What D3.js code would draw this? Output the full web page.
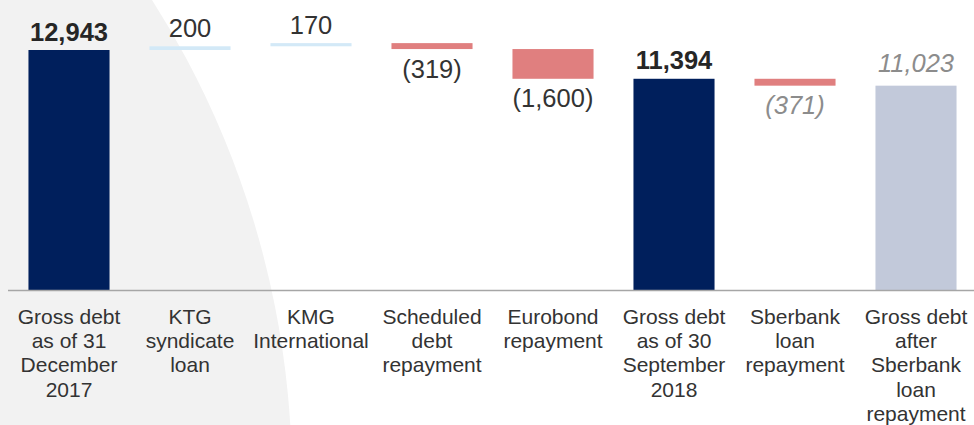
<!DOCTYPE html>
<html>
<head>
<meta charset="utf-8">
<script src="https://cdn.jsdelivr.net/npm/d3@7"></script>
<style>
  html, body { margin: 0; padding: 0; background: #ffffff; }
  svg { display: block; font-family: "Liberation Sans", Arial, sans-serif; }
</style>
</head>
<body>
<div id="chart"></div>
<script>
// ---- data ----
const categories = [
  ["Gross debt", "as of 31", "December", "2017"],
  ["KTG", "syndicate", "loan"],
  ["KMG", "International"],
  ["Scheduled", "debt", "repayment"],
  ["Eurobond", "repayment"],
  ["Gross debt", "as of 30", "September", "2018"],
  ["Sberbank", "loan", "repayment"],
  ["Gross debt", "after", "Sberbank", "loan", "repayment"]
];
const values = [12943, 200, 170, -319, -1600, 11394, -371, 11023];
const kinds = ["total", "increase", "increase", "decrease", "decrease", "total", "decrease-proj", "total-proj"];
const valueLabels = ["12,943", "200", "170", "(319)", "(1,600)", "11,394", "(371)", "11,023"];

// ---- styles ----
const W = 974, H = 425;
const baseY = 290.5;
const colors = {
  "total": "#001f5c",
  "increase": "#d3e9f7",
  "decrease": "#e07f7f",
  "decrease-proj": "#e07f7f",
  "total-proj": "#c2c9da"
};

// build waterfall segments
let running = 0;
const rows = values.map((v, i) => {
  const k = kinds[i];
  let start, end;
  if (k.startsWith("total")) { start = 0; end = v; running = v; }
  else { start = running; end = running + v; running = end; }
  return { i, k, v, start, end, lo: Math.min(start, end), hi: Math.max(start, end), label: valueLabels[i], cat: categories[i] };
});

const svg = d3.select("#chart").append("svg").attr("width", W).attr("height", H);

// background arc
svg.append("circle").attr("cx", -601).attr("cy", 480).attr("r", 893).attr("fill", "#f2f2f2");

const x = d3.scaleBand().domain(d3.range(values.length)).range([8.5, 976.5]).paddingInner(0.33).paddingOuter(0.165);
const pxPerUnit = (baseY - 50) / 12943;
const y = d3.scaleLinear().domain([0, 13500]).range([baseY, baseY - 13500 * pxPerUnit]);

// bars
svg.append("g").selectAll("rect").data(rows).join("rect")
  .attr("x", d => x(d.i))
  .attr("width", x.bandwidth())
  .attr("y", d => y(d.hi))
  .attr("height", d => Math.max(1, y(d.lo) - y(d.hi)))
  .attr("fill", d => colors[d.k]);

// axis line
svg.append("line").attr("x1", 8).attr("x2", W).attr("y1", baseY).attr("y2", baseY)
  .attr("stroke", "#a6a6a6").attr("stroke-width", 1.7);

// value labels
svg.append("g").selectAll("text").data(rows).join("text")
  .attr("x", d => x(d.i) + x.bandwidth() / 2)
  .attr("y", d => d.v < 0 && !d.k.startsWith("total") ? y(d.lo) + 28.5 : y(d.hi) - (d.k === "total-proj" ? 14 : 9.5))
  .attr("text-anchor", "middle")
  .attr("font-size", 25.5)
  .attr("font-weight", d => d.k === "total" ? "bold" : "normal")
  .attr("font-style", d => d.k.endsWith("proj") ? "italic" : "normal")
  .attr("fill", d => d.k.endsWith("proj") ? "#8c8c8c" : (d.k === "total" ? "#262626" : "#333333"))
  .text(d => d.label);

// category labels
const cg = svg.append("g").selectAll("text").data(rows).join("text")
  .attr("text-anchor", "middle")
  .attr("font-size", 21)
  .attr("fill", "#333333");
cg.selectAll("tspan").data(d => d.cat.map((t, j) => ({ t, j, cx: x(d.i) + x.bandwidth() / 2 }))).join("tspan")
  .attr("x", d => d.cx)
  .attr("y", d => 324 + d.j * 24.2)
  .text(d => d.t);
</script>
</body>
</html>
